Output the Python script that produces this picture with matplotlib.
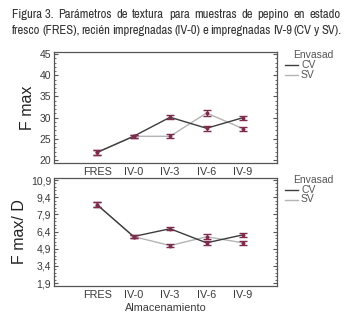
import matplotlib
matplotlib.use("Agg")
import matplotlib.pyplot as plt
from matplotlib import font_manager
from matplotlib.ticker import FixedLocator, MultipleLocator
import numpy as np

# ---------------- data ----------------
categories = ["FRES", "IV-0", "IV-3", "IV-6", "IV-9"]
fmax_cv = [21.8, 25.6, 30.1, 27.5, 30.0]
fmax_sv = [21.8, 25.6, 25.6, 31.1, 27.4]
fmax_err = [0.6, 0.4, 0.5, 0.6, 0.5]
fmaxd_cv = [8.75, 5.97, 6.65, 5.42, 6.12]
fmaxd_sv = [8.75, 5.97, 5.18, 5.95, 5.42]
fmaxd_err = [0.22, 0.12, 0.15, 0.2, 0.15]
top_yticks = [20, 25, 30, 35, 40, 45]
bot_yticks = [1.9, 3.4, 4.9, 6.4, 7.9, 9.4, 10.9]
bot_ytick_labels = ["1,9", "3,4", "4,9", "6,4", "7,9", "9,4", "10,9"]
legend_title = "Envasad"
series_names = ["CV", "SV"]
title_bold = "Figura 3."
title_line1 = "Parámetros de textura para muestras de pepino en estado"
title_line2 = "fresco (FRES), recién impregnadas (IV-0) e impregnadas IV-9 (CV y SV)."

names = {f.name for f in font_manager.fontManager.ttflist}
base_font = "Liberation Sans" if "Liberation Sans" in names else "DejaVu Sans"
narrow_font = base_font
for cand in ["Archivo Narrow", "Liberation Sans Narrow", "Roboto Condensed", "Barlow Semi Condensed"]:
    if cand in names:
        narrow_font = cand
        break
plt.rcParams["font.family"] = [base_font, "DejaVu Sans"]

W, H = 354, 321
fig = plt.figure(figsize=(W / 100, H / 100), dpi=100)

def ax_rect(x0, y0, x1, y1):
    return [x0 / W, 1 - y1 / H, (x1 - x0) / W, (y1 - y0) / H]

ax1 = fig.add_axes(ax_rect(54, 52, 277, 163))
ax2 = fig.add_axes(ax_rect(54, 178, 277, 286))

x = np.arange(len(categories))
cv_col = "#3c3c3c"
sv_col = "#b4b4b4"
err_col = "#7d2c4e"
txt_col = "#3a3a3a"

def draw(ax, cv, sv, err):
    ax.plot(x, sv, color=sv_col, lw=1.0, zorder=2)
    ax.plot(x, cv, color=cv_col, lw=1.0, zorder=3)
    for series in (cv, sv):
        ax.errorbar(x, series, yerr=err, fmt="none", ecolor=err_col,
                    elinewidth=1.0, capsize=2.6, capthick=1.0, zorder=4)
        ax.plot(x, series, ls="none", marker="o", ms=1.8, color=err_col, zorder=5)
    ax.set_xlim(-1.18, 4.93)
    ax.set_xticks(x)
    ax.set_xticklabels(categories, fontsize=7.8, color=txt_col)
    ax.tick_params(axis="x", length=0, pad=3)
    ax.tick_params(axis="y", which="both", direction="in", right=True,
                   labelsize=7.5, labelcolor=txt_col, color="#555555", pad=2)
    ax.tick_params(axis="y", which="major", length=3, width=0.8)
    ax.tick_params(axis="y", which="minor", length=1.6, width=0.6)
    for s in ax.spines.values():
        s.set_color("#555555")
        s.set_linewidth(0.9)

draw(ax1, fmax_cv, fmax_sv, fmax_err)
ax1.set_ylim(19.3, 45.5)
ax1.set_yticks(top_yticks)
ax1.yaxis.set_minor_locator(MultipleLocator(1))
ax1.set_ylabel("F max", fontsize=11.5, color="#222222", labelpad=3)

draw(ax2, fmaxd_cv, fmaxd_sv, fmaxd_err)
ax2.set_ylim(1.65, 11.08)
ax2.set_yticks(bot_yticks)
ax2.set_yticklabels(bot_ytick_labels)
ax2.yaxis.set_minor_locator(FixedLocator(np.arange(1.9, 11.0, 0.3)))
ax2.set_ylabel("F max/ D", fontsize=11.5, color="#222222", labelpad=3)
ax2.set_xlabel("Almacenamiento", fontsize=7.8, color=txt_col, labelpad=2)

# legends
def legend(y_title):
    fig.text(293 / W, 1 - y_title / H, legend_title, fontsize=7.5, color="#555555", va="center", ha="left")
    for i, (nm, col) in enumerate(zip(series_names, [cv_col, sv_col])):
        yy = 1 - (y_title + 10 + i * 9.5) / H
        fig.add_artist(plt.Line2D([285 / W, 298 / W], [yy, yy], color=col, lw=1.0))
        fig.text(301 / W, yy, nm, fontsize=7.5, color="#555555", va="center", ha="left")

legend(55)
legend(180)

# justified title (size fitted to width with a target word gap)
renderer = fig.canvas.get_renderer()
X0, X1 = 12, 341
fam = [narrow_font, "DejaVu Sans"]

def words_width(words, weights, size):
    ts = [fig.text(0, 0, w, fontsize=size, family=fam, weight=wt) for w, wt in zip(words, weights)]
    tot = sum(t.get_window_extent(renderer).width for t in ts)
    for t in ts:
        t.remove()
    return tot

w1 = [title_bold] + title_line1.split()
wt1 = ["bold"] + ["normal"] * len(title_line1.split())
w2 = title_line2.split()
wt2 = ["normal"] * len(w2)
gap_em = 0.14
size = 20.0
for words, wts in ((w1, wt1), (w2, wt2)):
    w10 = words_width(words, wts, 10.0)
    s = (X1 - X0) / (w10 / 10.0 + (len(words) - 1) * gap_em * 100 / 72)
    size = min(size, s)

def justified(words, y, weights):
    texts = []
    for w, wt in zip(words, weights):
        t = fig.text(0, 1 - y / H, w, fontsize=size, family=fam,
                     weight=wt, color="#333333", va="center", ha="left")
        texts.append(t)
    widths = [t.get_window_extent(renderer).width for t in texts]
    gap = (X1 - X0 - sum(widths)) / (len(texts) - 1)
    xx = X0
    for t, wd in zip(texts, widths):
        t.set_x(xx / W)
        xx += wd + gap

justified(w1, 15, wt1)
justified(w2, 31, wt2)

fig.savefig("out.png", dpi=100)
